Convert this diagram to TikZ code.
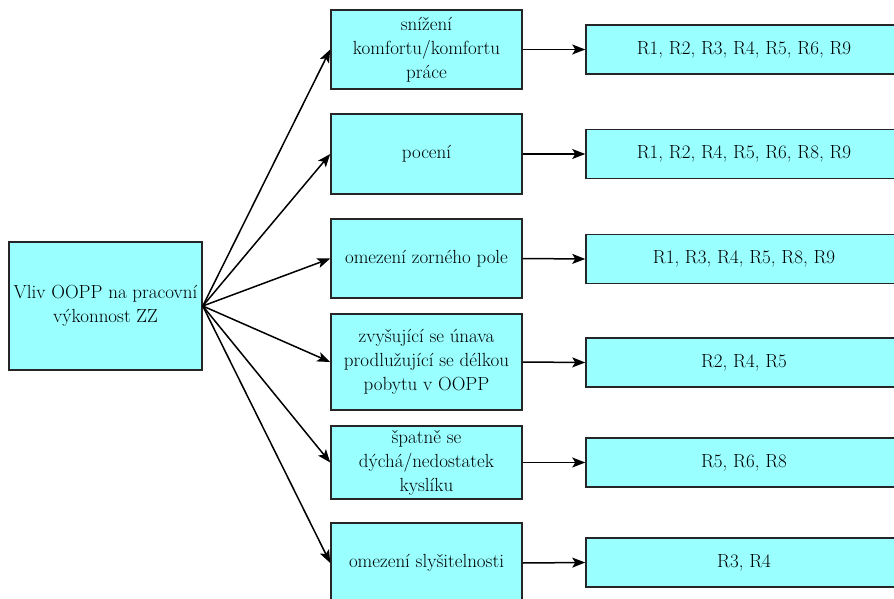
\documentclass[tikz,border=0pt]{standalone}
\usepackage{fontspec}
\usetikzlibrary{arrows.meta}

\definecolor{boxcyan}{RGB}{153,255,255}

\tikzstyle{box}    = [rectangle, draw=black!85, fill=boxcyan, line width=1.5pt
                     , align=center, inner sep=2pt
                     , font=\fontsize{19}{24}\selectfont]
\tikzstyle{dopad}  = [box, minimum width=191pt, minimum height=79pt]
\tikzstyle{rizika} = [box, minimum width=316pt, minimum height=49pt]
\tikzstyle{sipka}  = [-{Stealth[length=13pt, width=10pt, inset=3pt]}, line width=1.5pt]

\begin{document}
\begin{tikzpicture}[x=1pt, y=-1pt]
\clip (0,0) rectangle (894,599);
\useasboundingbox (0,0) rectangle (894,599);

%% Vliv Node
\node [box, minimum width=193pt, minimum height=128pt] (Vliv-Box) at (105.5,306) {Vliv OOPP na pracovní\\výkonnost ZZ};

%% Dopady
\node [dopad] (Dopad1-Box) at (426.5,49.5) {snížení\\komfortu/komfortu\\práce};
\node [dopad, minimum height=80pt] (Dopad2-Box) at (426.5,154) {pocení};
\node [dopad] (Dopad3-Box) at (426.5,258.5) {omezení zorného pole};
\node [dopad, minimum height=96pt] (Dopad4-Box) at (426.5,362) {zvyšující se únava\\prodlužující se délkou\\pobytu v OOPP};
\node [dopad, minimum height=73pt] (Dopad5-Box) at (426.5,462.5) {špatně se\\dýchá/nedostatek\\kyslíku};
\node [dopad, minimum height=80pt] (Dopad6-Box) at (426.5,563) {omezení slyšitelnosti};

%% Rizika
\node [rizika] (Rizika1-Box) at (744,49.5) {R1, R2, R3, R4, R5, R6, R9};
\node [rizika] (Rizika2-Box) at (744,154) {R1, R2, R4, R5, R6, R8, R9};
\node [rizika] (Rizika3-Box) at (744,259) {R1, R3, R4, R5, R8, R9};
\node [rizika] (Rizika4-Box) at (744,362.5) {R2, R4, R5};
\node [rizika] (Rizika5-Box) at (744,462.5) {R5, R6, R8};
\node [rizika] (Rizika6-Box) at (744,562.5) {R3, R4};

%% Arrows from Vliv
\draw [sipka] (Vliv-Box.east) -- (Dopad1-Box.west);
\draw [sipka] (Vliv-Box.east) -- (Dopad2-Box.west);
\draw [sipka] (Vliv-Box.east) -- (Dopad3-Box.west);
\draw [sipka] (Vliv-Box.east) -- (Dopad4-Box.west);
\draw [sipka] (Vliv-Box.east) -- (Dopad5-Box.west);
\draw [sipka] (Vliv-Box.east) -- (Dopad6-Box.west);

%% Arrows to Rizika
\draw [sipka] (Dopad1-Box.east) -- (Rizika1-Box.west);
\draw [sipka] (Dopad2-Box.east) -- (Rizika2-Box.west);
\draw [sipka] (Dopad3-Box.east) -- (Rizika3-Box.west);
\draw [sipka] (Dopad4-Box.east) -- (Rizika4-Box.west);
\draw [sipka] (Dopad5-Box.east) -- (Rizika5-Box.west);
\draw [sipka] (Dopad6-Box.east) -- (Rizika6-Box.west);

\end{tikzpicture}
\end{document}
